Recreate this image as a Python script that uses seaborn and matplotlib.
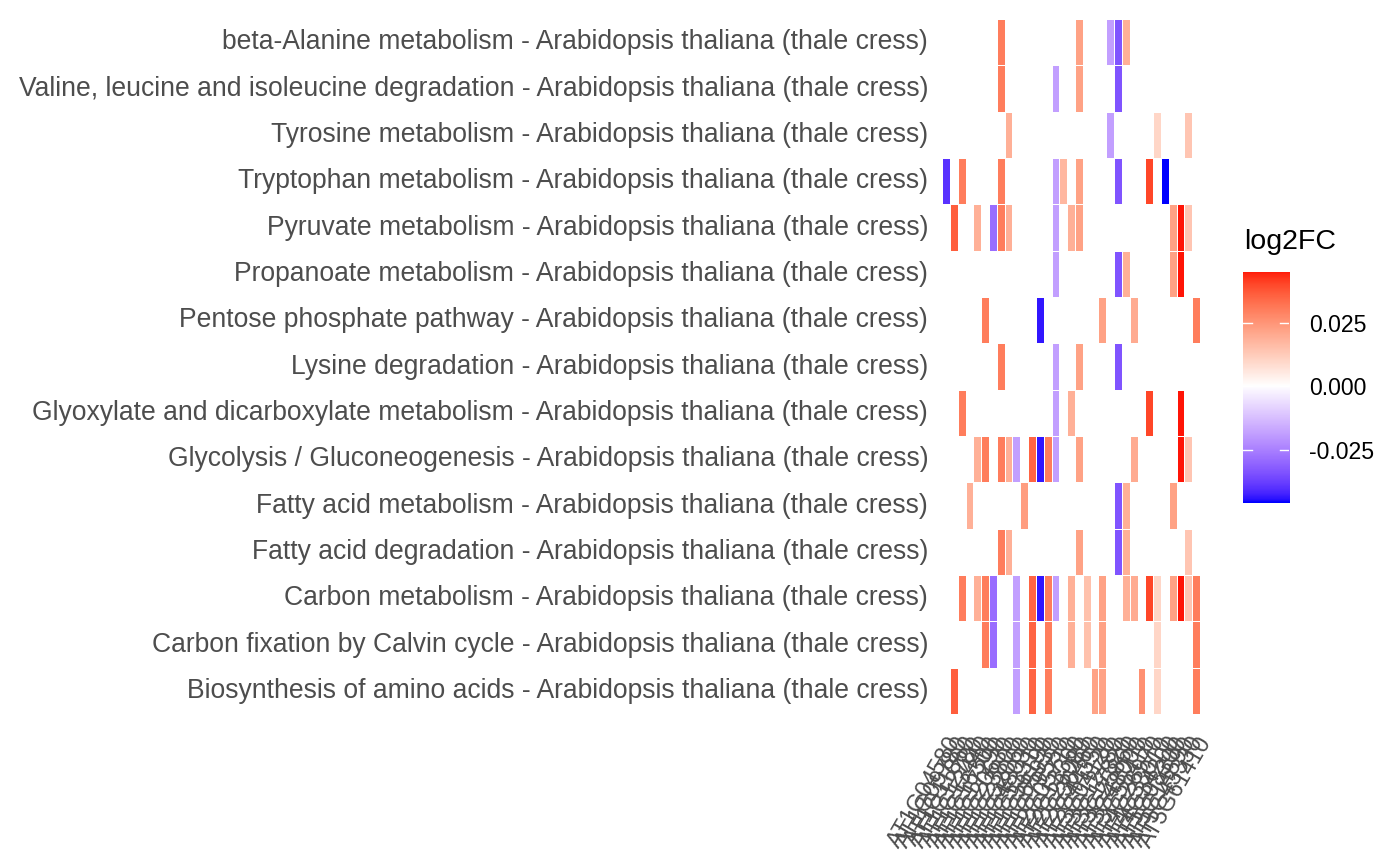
import numpy as np
import pandas as pd
import matplotlib
matplotlib.use("Agg")
import matplotlib.pyplot as plt
from matplotlib.colors import ListedColormap, Normalize
import seaborn as sns

# pathways, top to bottom as shown
pathways = [
    "beta-Alanine metabolism",
    "Valine, leucine and isoleucine degradation",
    "Tyrosine metabolism",
    "Tryptophan metabolism",
    "Pyruvate metabolism",
    "Propanoate metabolism",
    "Pentose phosphate pathway",
    "Lysine degradation",
    "Glyoxylate and dicarboxylate metabolism",
    "Glycolysis / Gluconeogenesis",
    "Fatty acid metabolism",
    "Fatty acid degradation",
    "Carbon metabolism",
    "Carbon fixation by Calvin cycle",
    "Biosynthesis of amino acids",
]
species = " - Arabidopsis thaliana (thale cress)"

genes = [
    "AT1G04580", "AT1G09780", "AT1G11860", "AT1G12780", "AT1G13440",
    "AT1G16300", "AT1G17290", "AT1G20630", "AT1G23800", "AT1G32060",
    "AT1G48030", "AT1G53310", "AT1G56190", "AT1G65930", "AT1G79550",
    "AT2G05710", "AT2G13360", "AT2G26080", "AT2G36460", "AT2G44350",
    "AT3G04120", "AT3G12780", "AT3G17820", "AT3G25860", "AT3G48000",
    "AT3G55410", "AT4G26970", "AT4G33010", "AT4G34200", "AT5G08300",
    "AT5G14590", "AT5G43330", "AT5G61410",
]

gene_log2fc = [
    -0.040, 0.036, 0.030, 0.019, 0.019, 0.030, -0.029, 0.030, 0.019, -0.019,
    0.023, 0.035, -0.044, 0.030, -0.019, 0.017, 0.019, 0.022, 0.015, 0.022,
    0.022, -0.019, -0.034, 0.019, 0.020, 0.026, 0.040, 0.010, -0.046, 0.022,
    0.045, 0.014, 0.030,
]

# gene indices found in each pathway
members = {
    "beta-Alanine metabolism": [7, 17, 21, 22, 23],
    "Valine, leucine and isoleucine degradation": [7, 14, 17, 22],
    "Tyrosine metabolism": [8, 21, 27, 31],
    "Tryptophan metabolism": [0, 2, 7, 14, 15, 17, 22, 26, 28],
    "Pyruvate metabolism": [1, 4, 6, 7, 8, 14, 16, 17, 29, 30, 31],
    "Propanoate metabolism": [14, 22, 23, 29, 30],
    "Pentose phosphate pathway": [5, 12, 20, 24, 32],
    "Lysine degradation": [7, 14, 17, 22],
    "Glyoxylate and dicarboxylate metabolism": [2, 14, 16, 26, 30],
    "Glycolysis / Gluconeogenesis": [4, 5, 7, 8, 9, 11, 12, 13, 14, 17, 24, 30, 31],
    "Fatty acid metabolism": [3, 10, 22, 23, 29],
    "Fatty acid degradation": [7, 8, 17, 22, 23, 31],
    "Carbon metabolism": [2, 4, 5, 6, 9, 11, 12, 13, 14, 16, 18, 20, 23, 24,
                          26, 27, 29, 30, 31, 32],
    "Carbon fixation by Calvin cycle": [5, 6, 9, 11, 13, 16, 18, 20, 27, 32],
    "Biosynthesis of amino acids": [1, 9, 11, 13, 19, 20, 25, 27, 32],
}

rows = []
for p in pathways:
    for i in members[p]:
        rows.append({"pathway": p + species, "gene": genes[i], "log2FC": gene_log2fc[i]})
df = pd.DataFrame(rows)
mat = df.pivot(index="pathway", columns="gene", values="log2FC")
mat = mat.reindex(index=[p + species for p in pathways], columns=genes)


# blue - white - red gradient interpolated in Lab (like ggplot's gradient2)
def to_lab(rgb):
    rgb = np.asarray(rgb, float)
    c = np.where(rgb <= 0.04045, rgb / 12.92, ((rgb + 0.055) / 1.055) ** 2.4)
    M = np.array([[0.4124, 0.3576, 0.1805], [0.2126, 0.7152, 0.0722], [0.0193, 0.1192, 0.9505]])
    xyz = (M @ c) / np.array([0.95047, 1.0, 1.08883])
    f = np.where(xyz > 0.008856, np.cbrt(xyz), 7.787 * xyz + 16 / 116)
    return np.array([116 * f[1] - 16, 500 * (f[0] - f[1]), 200 * (f[1] - f[2])])


def from_lab(lab):
    L, a, b = lab
    fy = (L + 16) / 116
    fx = fy + a / 500
    fz = fy - b / 200
    f = np.array([fx, fy, fz])
    xyz = np.where(f ** 3 > 0.008856, f ** 3, (f - 16 / 116) / 7.787) * np.array([0.95047, 1.0, 1.08883])
    Minv = np.array([[3.2406, -1.5372, -0.4986], [-0.9689, 1.8758, 0.0415], [0.0557, -0.2040, 1.0570]])
    c = Minv @ xyz
    c = np.where(c <= 0.0031308, 12.92 * c, 1.055 * np.clip(c, 0, None) ** (1 / 2.4) - 0.055)
    return np.clip(c, 0, 1)


low, mid, high = to_lab([0, 0, 1]), to_lab([1, 1, 1]), to_lab([1, 0, 0])
cols = []
for t in np.linspace(0, 1, 256):
    if t < 0.5:
        cols.append(from_lab(low + (mid - low) * (t / 0.5)))
    else:
        cols.append(from_lab(mid + (high - mid) * ((t - 0.5) / 0.5)))
cmap = ListedColormap(cols)

dmin, dmax = min(gene_log2fc), max(gene_log2fc)
m = max(abs(dmin), abs(dmax))

plt.rcParams["font.family"] = ["Liberation Sans", "DejaVu Sans"]
fig = plt.figure(figsize=(14, 8.66), dpi=100)
ax = fig.add_axes([0.6729, 0.1755, 0.1843, 0.8025])
sns.heatmap(mat, ax=ax, cmap=cmap, vmin=-m, vmax=m, cbar=False,
            linewidths=0.5, linecolor="white",
            xticklabels=True, yticklabels=True)
ax.set_xlabel("")
ax.set_ylabel("")
ax.tick_params(axis="both", length=0, colors="#4D4D4D")
ax.tick_params(axis="y", pad=10, labelsize=19.1)
ax.tick_params(axis="x", pad=13, labelsize=16.8)
plt.setp(ax.get_yticklabels(), rotation=0)
plt.setp(ax.get_xticklabels(), rotation=60, ha="right", va="top", rotation_mode="anchor")

# colour legend
cax = fig.add_axes([0.888, 0.419, 0.033, 0.267])
grad = np.linspace(dmax, dmin, 300)[:, None]
cax.imshow(grad, cmap=cmap, norm=Normalize(-m, m), aspect="auto",
           extent=[0, 1, dmin, dmax])
cax.set_xlim(0, 1)
cax.set_ylim(dmin, dmax)
for s in cax.spines.values():
    s.set_visible(False)
cax.set_xticks([])
legend_ticks = [-0.025, 0.0, 0.025]
for v in legend_ticks:
    cax.plot([0, 0.2], [v, v], color="white", lw=1)
    cax.plot([0.8, 1], [v, v], color="white", lw=1)
cax.yaxis.tick_right()
cax.set_yticks(legend_ticks)
cax.set_yticklabels([f"{v:.3f}" for v in legend_ticks])
cax.tick_params(axis="y", length=0, pad=14, labelsize=16.6, colors="black")
fig.text(0.889, 0.705, "log2FC", fontsize=20.5, ha="left", va="bottom")

fig.savefig("out.png", dpi=100, facecolor="white")
